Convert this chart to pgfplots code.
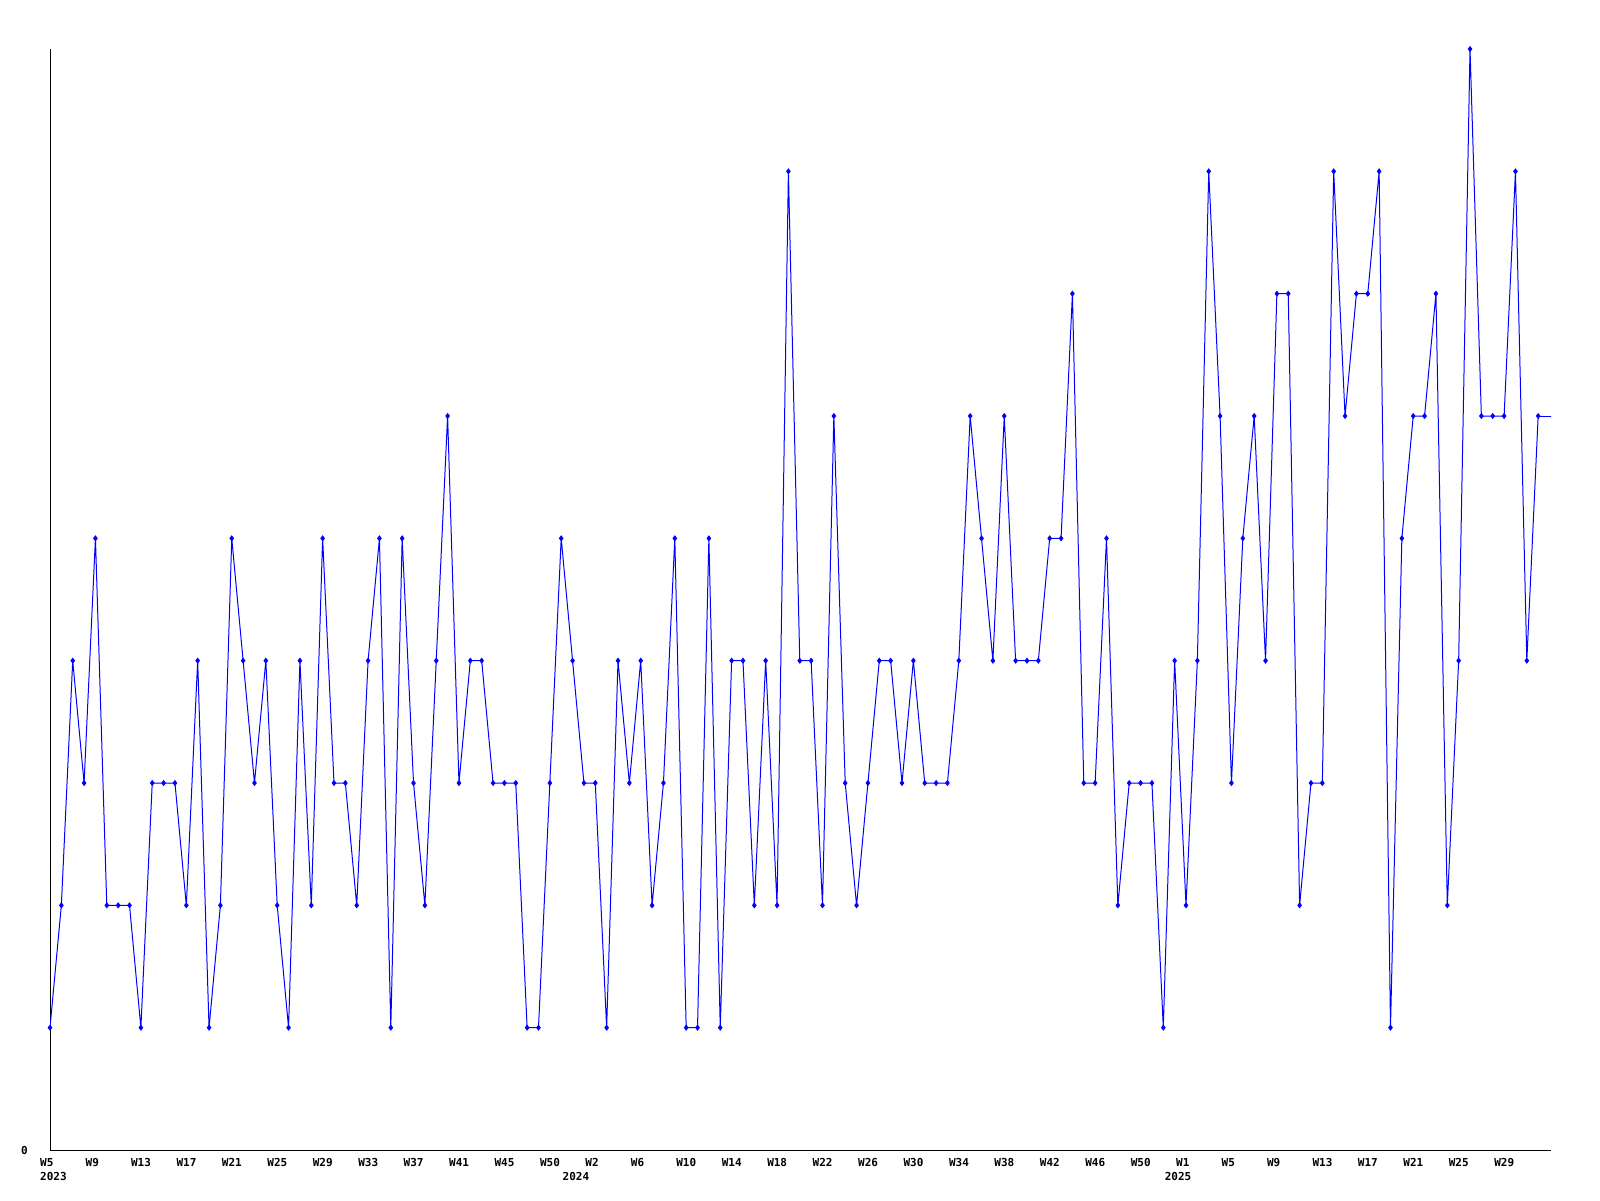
\documentclass[border=0pt]{standalone}
\usepackage{pgfplots}
\pgfplotsset{compat=1.18}
\usepackage{fontspec}
\setmonofont{DejaVu Sans Mono}
\newcommand{\lblfont}{\fontsize{11}{14}\selectfont\ttfamily\bfseries}

\begin{document}
\begin{tikzpicture}
\path[use as bounding box] (0,0) rectangle (1600pt,1200pt);
\begin{axis}[
  at={(50pt,50pt)}, anchor=south west,
  scale only axis,
  width=1501pt, height=1101pt,
  xmin=0, xmax=132.13,
  ymin=0, ymax=9,
  axis x line=bottom, axis y line=left,
  axis line style={-, black, line width=1pt},
  major tick length=0pt,
  xtick={0,4,...,128},
  xticklabels={W5,W9,W13,W17,W21,W25,W29,W33,W37,W41,W45,W50,
               W2,W6,W10,W14,W18,W22,W26,W30,W34,W38,W42,W46,W50,
               W1,W5,W9,W13,W17,W21,W25,W29},
  xticklabel style={font=\lblfont, anchor=north west, inner sep=0pt, xshift=-10pt, yshift=-8pt},
  ytick={0},
  yticklabels={0},
  yticklabel style={font=\lblfont, anchor=east, inner sep=0pt, xshift=-22pt},
  clip mode=individual,
]
% weekly values, one point per week
\addplot[blue, line width=1pt, mark=diamond*, mark size=2.3pt, mark options={solid}] coordinates {
(0,1)(1,2)(2,4)(3,3)(4,5)(5,2)(6,2)(7,2)(8,1)(9,3)
(10,3)(11,3)(12,2)(13,4)(14,1)(15,2)(16,5)(17,4)(18,3)(19,4)
(20,2)(21,1)(22,4)(23,2)(24,5)(25,3)(26,3)(27,2)(28,4)(29,5)
(30,1)(31,5)(32,3)(33,2)(34,4)(35,6)(36,3)(37,4)(38,4)(39,3)
(40,3)(41,3)(42,1)(43,1)(44,3)(45,5)(46,4)(47,3)(48,3)(49,1)
(50,4)(51,3)(52,4)(53,2)(54,3)(55,5)(56,1)(57,1)(58,5)(59,1)
(60,4)(61,4)(62,2)(63,4)(64,2)(65,8)(66,4)(67,4)(68,2)(69,6)
(70,3)(71,2)(72,3)(73,4)(74,4)(75,3)(76,4)(77,3)(78,3)(79,3)
(80,4)(81,6)(82,5)(83,4)(84,6)(85,4)(86,4)(87,4)(88,5)(89,5)
(90,7)(91,3)(92,3)(93,5)(94,2)(95,3)(96,3)(97,3)(98,1)(99,4)
(100,2)(101,4)(102,8)(103,6)(104,3)(105,5)(106,6)(107,4)(108,7)(109,7)
(110,2)(111,3)(112,3)(113,8)(114,6)(115,7)(116,7)(117,8)(118,1)(119,5)
(120,6)(121,6)(122,7)(123,2)(124,4)(125,9)(126,6)(127,6)(128,6)(129,8)
(130,4)(131,6)
};
% line runs on past the last point to the axis edge
\addplot[blue, line width=1pt, no marks, forget plot] coordinates {(131,6) (134,6)};
\node[font=\lblfont, anchor=north west, inner sep=0pt] at (axis cs:0,0) [xshift=-10pt, yshift=-22pt] {2023};
\node[font=\lblfont, anchor=north, inner sep=0pt] at (axis cs:46.3,0) [yshift=-22pt] {2024};
\node[font=\lblfont, anchor=north, inner sep=0pt] at (axis cs:99.3,0) [yshift=-22pt] {2025};
\end{axis}
\end{tikzpicture}
\end{document}
